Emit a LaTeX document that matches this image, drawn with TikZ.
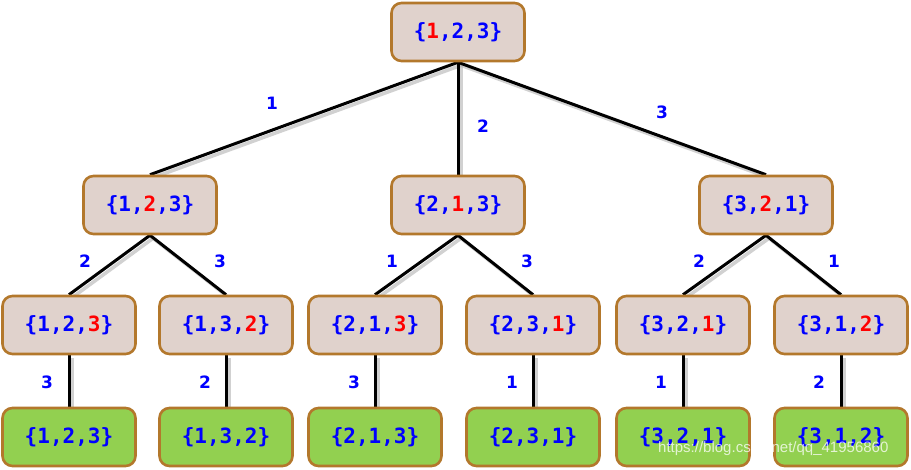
\documentclass[tikz,border=0pt]{standalone}
\usepackage{fontspec}
\usetikzlibrary{backgrounds}
\newfontfamily\monob{DejaVu Sans Mono}
\newfontfamily\labf{DejaVu Sans}
\newfontfamily\wmf{Liberation Sans}
\definecolor{txtblue}{HTML}{0000FF}
\definecolor{txtred}{HTML}{FF0000}
\definecolor{boxfill}{HTML}{E0D2CC}
\definecolor{leaffill}{HTML}{92D050}
\definecolor{boxline}{HTML}{B3782C}
\newcommand{\Rd}[1]{\textcolor{txtred}{#1}}
\tikzset{
  setbox/.style={draw=boxline, line width=2.6pt, rounded corners=10pt, fill=boxfill,
     minimum width=133pt, minimum height=58pt, inner sep=0pt,
     font=\monob\bfseries\fontsize{21}{24}\selectfont, text=txtblue},
  leafbox/.style={setbox, fill=leaffill},
  edge/.style={line width=3pt, black},
  eshadow/.style={line width=3.5pt, black!30, opacity=0.6},
  elab/.style={font=\labf\bfseries\fontsize{17}{20}\selectfont, text=txtblue, inner sep=0pt}
}
\begin{document}
\begin{tikzpicture}[x=1pt,y=-1pt]
\useasboundingbox (0,0) rectangle (911,469);
% nodes
\node[setbox] (r) at (458,32) {\{\Rd{1},2,3\}};
\node[setbox] (a) at (150,205) {\{1,\Rd{2},3\}};
\node[setbox] (b) at (458,205) {\{2,\Rd{1},3\}};
\node[setbox] (c) at (766,205) {\{3,\Rd{2},1\}};
\node[setbox] (a1) at (69,325) {\{1,2,\Rd{3}\}};
\node[setbox] (a2) at (226,325) {\{1,3,\Rd{2}\}};
\node[setbox] (b1) at (375,325) {\{2,1,\Rd{3}\}};
\node[setbox] (b2) at (533,325) {\{2,3,\Rd{1}\}};
\node[setbox] (c1) at (683,325) {\{3,2,\Rd{1}\}};
\node[setbox] (c2) at (841,325) {\{3,1,\Rd{2}\}};
\node[leafbox] (l1) at (69,437) {\{1,2,3\}};
\node[leafbox] (l2) at (226,437) {\{1,3,2\}};
\node[leafbox] (l3) at (375,437) {\{2,1,3\}};
\node[leafbox] (l4) at (533,437) {\{2,3,1\}};
\node[leafbox] (l5) at (683,437) {\{3,2,1\}};
\node[leafbox] (l6) at (841,437) {\{3,1,2\}};
% edges, behind the nodes
\begin{scope}[on background layer]
\foreach \p/\q in {r/a,r/b,r/c,a/a1,a/a2,b/b1,b/b2,c/c1,c/c2,a1/l1,a2/l2,b1/l3,b2/l4,c1/l5,c2/l6}{
  \draw[eshadow] ([shift={(3,3)}]\p.south) -- ([shift={(3,3)}]\q.north);
}
\foreach \p/\q in {r/a,r/b,r/c,a/a1,a/a2,b/b1,b/b2,c/c1,c/c2,a1/l1,a2/l2,b1/l3,b2/l4,c1/l5,c2/l6}{
  \draw[edge] (\p.south) -- (\q.north);
}
\end{scope}
% edge labels
\node[elab] (t1) at (272,103) {1};
\node[elab] (t2) at (483,126) {2};
\node[elab] (t3) at (662,112) {3};
\node[elab] (u1) at (85,261) {2};
\node[elab] (u2) at (220,261) {3};
\node[elab] (u3) at (392,261) {1};
\node[elab] (u4) at (527,261) {3};
\node[elab] (u5) at (699,261) {2};
\node[elab] (u6) at (834,261) {1};
\node[elab] (v1) at (47,382) {3};
\node[elab] (v2) at (205,382) {2};
\node[elab] (v3) at (354,382) {3};
\node[elab] (v4) at (512,382) {1};
\node[elab] (v5) at (661,382) {1};
\node[elab] (v6) at (819,382) {2};
% watermark
\node[font=\wmf\fontsize{15}{18}\selectfont, text=white, opacity=0.75, anchor=west, inner sep=0pt] (wm) at (658,449) {https://blog.csdn.net/qq\_41956860};
\end{tikzpicture}
\end{document}
